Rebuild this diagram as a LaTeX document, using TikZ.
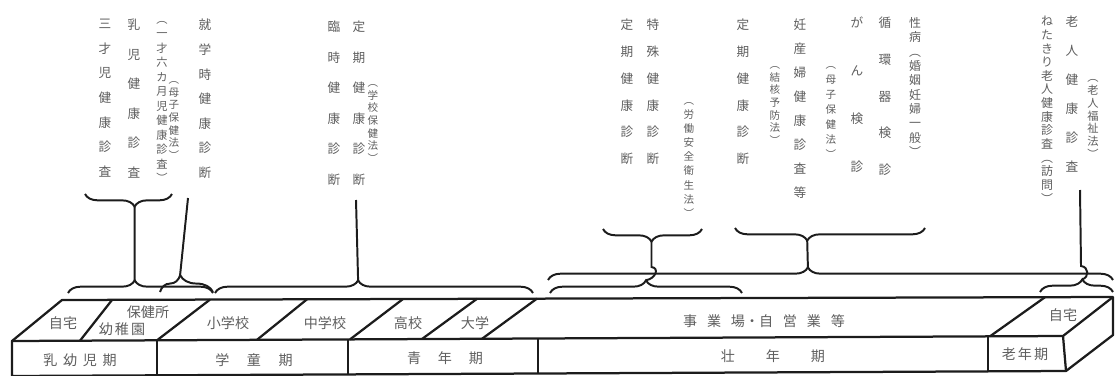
\documentclass[tikz,border=0pt]{standalone}
\usepackage{fontspec}
\newfontfamily\cjk{Noto Sans CJK JP}
\usepackage{xcolor}
\usetikzlibrary{decorations.pathreplacing}
\definecolor{ink}{HTML}{1C1C1C}
\definecolor{txt}{HTML}{5E5E5E}
\newcommand{\vf}[2]{\cjk\fontsize{#1}{#2}\selectfont}
\newcommand{\sk}[1]{\hspace{#1pt}}
\newcommand{\vt}{\vphantom{国}}
\tikzstyle{col} = [anchor=north, inner sep=0, align=center, text=txt]
\tikzstyle{lbl} = [inner sep=0, text=txt, font=\vf{10}{12}]
\tikzstyle{box} = [draw=ink, line width=1.6pt, line join=round]
\tikzstyle{ln} = [draw=ink, line width=1.4pt]
\tikzstyle{brc} = [ln, decorate, decoration={brace, amplitude=9pt}]

\begin{document}
\begin{tikzpicture}[x=0.025cm, y=-0.025cm]
	\useasboundingbox (0,0) rectangle (1116,375);

	% health checks, written top to bottom
	\node [col, font=\vf{9}{17.5}] (c1) at (105,19) {三\\才\\児\\健\\康\\診\\査};
	\node [col, font=\vf{9}{21}] (c2) at (134,19) {乳\\児\\健\\康\\診\\査};
	\node [col, font=\vf{8}{10.3}] (c3) at (162,14) {\vt︵\\一\\才\\六\\カ\\月\\児\\健\\康\\診\\査\\︶};
	\node [col, font=\vf{7.5}{9}] (c4) at (174,75) {\vt︵\\母\\子\\保\\健\\法\\︶};
	\node [col, font=\vf{9}{17.5}] (c5) at (205,19) {就\\学\\時\\健\\康\\診\\断};
	\node [col, font=\vf{9}{21.7}] (c6) at (334,21) {臨\\時\\健\\康\\診\\断};
	\node [col, font=\vf{9}{21.7}] (c7) at (359,21) {定\\期\\健\\康\\診\\断};
	\node [col, font=\vf{7.5}{9}] (c8) at (373,78) {\vt︵\\学\\校\\保\\健\\法\\︶};
	\node [col, font=\vf{9}{19}] (c9) at (627,19) {定\\期\\健\\康\\診\\断};
	\node [col, font=\vf{9}{19}] (c10) at (653,19) {特\\殊\\健\\康\\診\\断};
	\node [col, font=\vf{7.5}{10}] (c11) at (689,96) {\vt︵\\労\\働\\安\\全\\衛\\生\\法\\︶};
	\node [col, font=\vf{9}{19}] (c12) at (743,19) {定\\期\\健\\康\\診\\断};
	\node [col, font=\vf{7.5}{9}] (c13) at (775,60) {\vt︵\\結\\核\\予\\防\\法\\︶};
	\node [col, font=\vf{9}{17}] (c14) at (800,19) {妊\\産\\婦\\健\\康\\診\\査\\等};
	\node [col, font=\vf{7.5}{10.6}] (c15) at (831,60) {\vt︵\\母\\子\\保\\健\\法\\︶};
	\node [col, font=\vf{9}{34}] (c16) at (857,17) {が\\ん\\検\\診};
	\node [col, font=\vf{9}{26}] (c17) at (885,17) {循\\環\\器\\検\\診};
	\node [col, font=\vf{8.5}{10.2}] (c18) at (915,17) {性\\病\\︵\\婚\\姻\\妊\\婦\\一\\般\\︶};
	\node [col, font=\vf{8.5}{9.7}] (c19) at (1047,16) {ね\\た\\き\\り\\老\\人\\健\\康\\診\\査\\︵\\訪\\問\\︶};
	\node [col, font=\vf{9}{20.5}] (c20) at (1072,16) {老\\人\\健\\康\\診\\査};
	\node [col, font=\vf{8}{9.2}] (c21) at (1093,72) {\vt︵\\老\\人\\福\\祉\\法\\︶};

	% the life-stage block
	\draw [box] (12,341) -- (62,300) -- (1113,297) -- (1113,335) -- (1066,371) -- (12,376) -- cycle;
	\draw [box] (12,341) -- (1063,336) -- (1113,297);
	\draw [box] (1063,336) -- (1066,371);
	\draw [box] (157,340.3) -- (157,375.3);
	\draw [box] (348,339.4) -- (348,374.4);
	\draw [box] (538,338.5) -- (538,373.5);
	\draw [box] (988,336.4) -- (988,371.4);
	\draw [box] (112,300) -- (80,340.7);
	\draw [box] (210,299.6) -- (157,340.3);
	\draw [box] (307,299.3) -- (257,339.8);
	\draw [box] (403,299) -- (350,339.4);
	\draw [box] (477,298.8) -- (422,339);
	\draw [box] (537,298.6) -- (482,338.8);
	\draw [box] (1045,297.2) -- (990,336.3);

	\node [lbl] (jitaku) at (63,323) {自宅};
	\node [lbl] (hokenjo) at (148,312) {保健所};
	\node [lbl] (youchien) at (122,329) {幼\sk{1.5}稚\sk{1.5}園};
	\node [lbl] (shou) at (228,323) {小学校};
	\node [lbl] (chuu) at (325,323) {中学校};
	\node [lbl] (kou) at (408,323) {高校};
	\node [lbl] (dai) at (475,323) {大学};
	\node [lbl] (jigyou) at (764,321) {事\sk{7}業\sk{7}場・自\sk{7}営\sk{7}業\sk{7}等};
	\node [lbl] (jitaku2) at (1063,315) {自宅};

	\node [lbl] (nyuyouji) at (80,360) {乳\sk{4}幼\sk{4}児\sk{4}期};
	\node [lbl] (gakudou) at (254,360) {学\sk{12.5}童\sk{12.5}期};
	\node [lbl] (seinen) at (445,358) {青\sk{12}年\sk{12}期};
	\node [lbl] (sounen) at (773,356) {壮\sk{22}年\sk{22}期};
	\node [lbl] (rounen) at (1025,354) {老\sk{1.5}年\sk{1.5}期};

	% braces
	\draw [brc, decoration={aspect=0.46}] (68,293) -- (213,293);
	\draw [brc, decoration={aspect=0.38, amplitude=12pt}] (160,292) -- (213,292);
	\draw [brc, decoration={aspect=0.45}] (215,293) -- (533,293);
	\draw [brc, decoration={aspect=0.5}] (550,293) -- (742,293);
	\draw [brc, decoration={aspect=0.46}] (548,280) -- (1113,280);
	\draw [brc, decoration={aspect=0.58}] (1040,292) -- (1113,292);
	\draw [brc, decoration={mirror, aspect=0.57}] (85,194) -- (172,194);
	\draw [brc, decoration={mirror, aspect=0.49}] (603,229) -- (702,229);
	\draw [brc, decoration={mirror, aspect=0.38}] (735,228) -- (925,228);

	\coordinate (tA) at (134.7,280.3);
	\coordinate (tB) at (180.1,275);
	\coordinate (tC) at (358.1,280.3);
	\coordinate (tD) at (646,280.3);
	\coordinate (tF) at (807.9,267.3);
	\coordinate (tH) at (1082.3,279.3);
	\coordinate (uA) at (134.6,206.7);
	\coordinate (uE) at (651.5,241.7);
	\coordinate (uG) at (807.2,240.7);
	\coordinate (eB) at (188,198);
	\coordinate (eC) at (356,200);
	\coordinate (eH) at (1080,190);

	\draw [ln] (uA) -- (tA);
	\draw [ln] (eB) -- (tB);
	\draw [ln] (eC) -- (tC);
	\draw [ln] (uE) -- (651.5,267) .. controls +(8,1) and +(10,-2) .. (tD);
	\draw [ln] (uG) -- (tF);
	\draw [ln] (eH) -- (1081,266) .. controls +(8,1) and +(7,-2) .. (tH);
\end{tikzpicture}
\end{document}
